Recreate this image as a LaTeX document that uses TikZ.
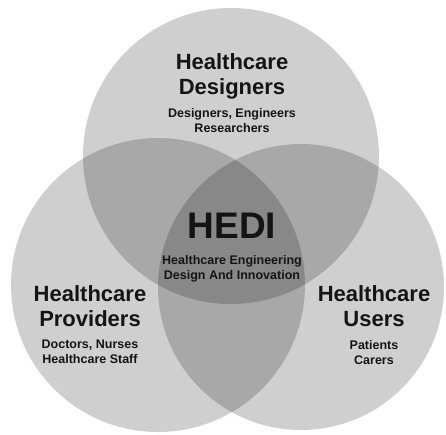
\documentclass[tikz,border=0pt]{standalone}
\usepackage{fontspec}
\setmainfont{Liberation Sans}
\usetikzlibrary{positioning}

\begin{document}
\begin{tikzpicture}[x=1pt,y=-1pt,every node/.style={text=black!92,inner sep=0pt}]
  \tikzset{
    set/.style={circle,fill=black,fill opacity=0.19,draw=none},
    head/.style={anchor=north,align=center,font=\fontsize{22}{25}\selectfont\bfseries},
    sub/.style={anchor=north,align=center,font=\fontsize{12.5}{15}\selectfont\bfseries},
    core/.style={anchor=north,font=\fontsize{37}{40}\selectfont\bfseries}
  }
  \useasboundingbox (0,0) rectangle (446,434);
  % the three groups
  \foreach \name/\x/\y/\d in {des/231/156/296,pro/158/285/294,usr/301/287/286}
    \node[set,minimum size=\d pt] (\name) at (\x,\y) {};
  % group labels
  \node[head] (desT) at (232,53) {Healthcare\\Designers};
  \node[sub] (desS) at (232,108) {Designers, Engineers\\Researchers};
  \node[head] (proT) at (90,285) {Healthcare\\Providers};
  \node[sub] (proS) at (90,340) {Doctors, Nurses\\Healthcare Staff};
  \node[head] (usrT) at (374,285) {Healthcare\\Users};
  \node[sub] (usrS) at (374,340) {Patients\\Carers};
  % centre
  \node[core] (hedi) at (232,213) {HEDI};
  \node[sub] (hediS) at (232,255) {Healthcare Engineering\\Design And Innovation};
\end{tikzpicture}
\end{document}
